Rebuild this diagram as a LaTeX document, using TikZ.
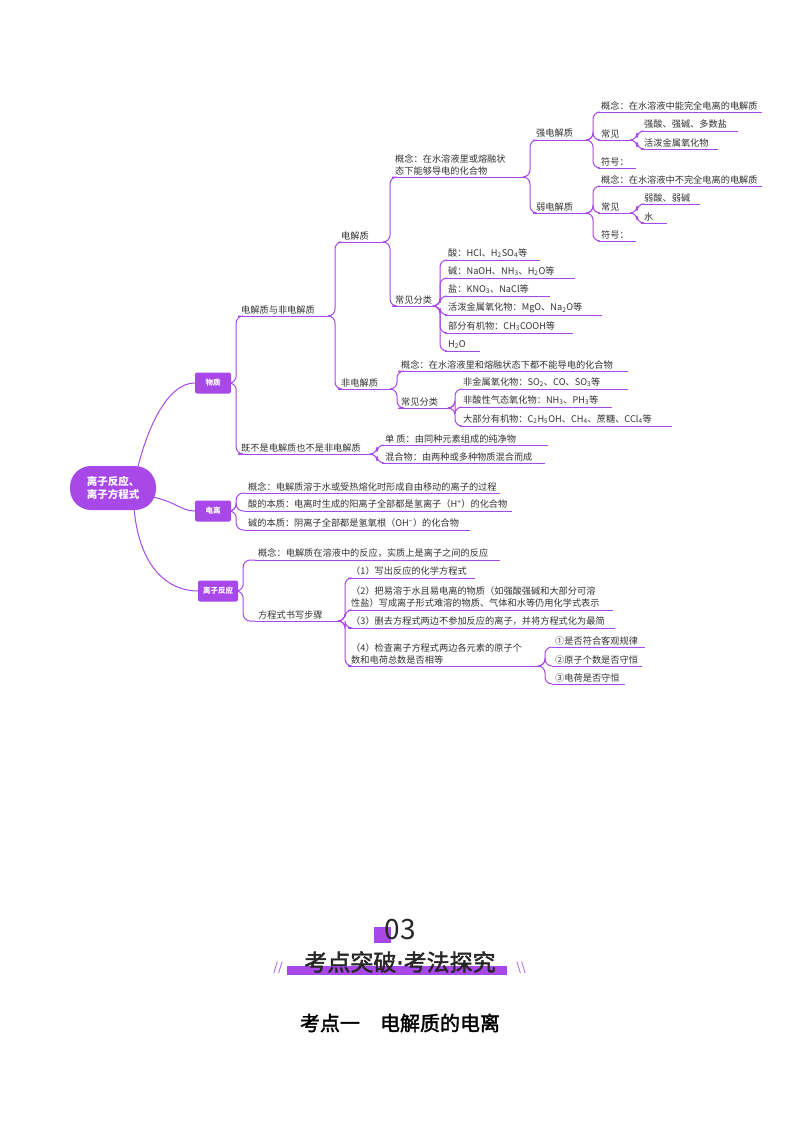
\documentclass[tikz,border=0pt]{standalone}
\usepackage{fontspec}
\setmainfont{Noto Sans CJK SC}
\newfontfamily\cjkb[FakeBold=2]{Noto Sans CJK SC}
\newfontfamily\dvs[FakeBold=2]{DejaVu Sans}
\definecolor{mp}{RGB}{168,72,232}
\definecolor{tx}{RGB}{50,50,50}
\newcommand\dn[1]{\textsubscript{#1}}
\newcommand\up[1]{\textsuperscript{#1}}
\tikzset{txt/.style={font=\fontsize{9.2}{12}\selectfont,text=tx,inner sep=1pt,anchor=south west,align=left},
 ul/.style={draw=mp,line width=1pt},
 con/.style={draw=mp,line width=1pt,rounded corners=7pt},
 box/.style={fill=mp,text=white,rounded corners=2pt,font=\fontsize{7.5}{8}\selectfont\bfseries,minimum height=21pt,minimum width=36pt,inner xsep=5pt}}
\newcommand\leaf[5]{\node[txt] (#1) at (#2+2,#3-1) {#5};
 \draw[ul] (#2,#3) coordinate (#1-s) -- (#4,#3) coordinate (#1-e);}
\newcommand\con[2]{\draw[con] (#1) -- ++(5,0) |- (#2);}
\begin{document}
\begin{tikzpicture}[x=1pt,y=-1pt]
\useasboundingbox (0,0) rectangle (800,1132);
% root and boxes
\node[fill=mp,text=white,rounded corners=21pt,minimum width=86pt,minimum height=44pt,align=left,font=\fontsize{10.5}{13.5}\selectfont\bfseries] (root) at (113,488) {离子反应、\\离子方程式};
\node[box] (wz) at (213,383) {物质};
\node[box] (dl) at (213,511) {电离};
\node[box] (fy) at (218,591) {离子反应};
\draw[con,rounded corners=0] (root.north east) ++(-18,0) .. controls (150,420) and (170,383) .. (wz.west);
\draw[con,rounded corners=0] (root.east) ++(-10,8) .. controls (175,500) and (180,511) .. (dl.west);
\draw[con,rounded corners=0] (root.south east) ++(-22,0) .. controls (140,570) and (170,591) .. (fy.west);
% 物质
\leaf{a1}{238}{316}{330}{电解质与非电解质}
\leaf{a2}{238}{454}{372}{既不是电解质也不是非电解质}
\con{wz.east}{a1-s}\con{wz.east}{a2-s}
\leaf{b1}{338}{242}{385}{电解质}
\leaf{b2}{338}{389}{392}{非电解质}
\con{a1-e}{b1-s}\con{a1-e}{b2-s}
\leaf{c1}{392}{177}{525}{概念：在水溶液里或熔融状\\态下能够导电的化合物}
\leaf{c2}{392}{306}{435}{常见分类}
\con{b1-e}{c1-s}\con{b1-e}{c2-s}
\leaf{d1}{533}{140}{588}{强电解质}
\leaf{d2}{533}{213}{588}{弱电解质}
\con{c1-e}{d1-s}\con{c1-e}{d2-s}
\leaf{e1}{598}{112}{762}{概念：在水溶液中能完全电离的电解质}
\leaf{e2}{598}{140}{632}{常见}
\leaf{e3}{598}{168}{636}{符号：}
\con{d1-e}{e1-s}\con{d1-e}{e2-s}\con{d1-e}{e3-s}
\leaf{f1}{641}{131}{738}{强酸、强碱、多数盐}
\leaf{f2}{641}{149}{718}{活泼金属氧化物}
\con{e2-e}{f1-s}\con{e2-e}{f2-s}
\leaf{e4}{598}{186}{762}{概念：在水溶液中不完全电离的电解质}
\leaf{e5}{598}{213}{632}{常见}
\leaf{e6}{598}{241}{636}{符号：}
\con{d2-e}{e4-s}\con{d2-e}{e5-s}\con{d2-e}{e6-s}
\leaf{f3}{641}{204}{700}{弱酸、弱碱}
\leaf{f4}{641}{223}{667}{水}
\con{e5-e}{f3-s}\con{e5-e}{f4-s}
\leaf{g1}{445}{260}{540}{酸：HCl、H\dn{2}SO\dn{4}等}
\leaf{g2}{445}{278}{575}{碱：NaOH、NH\dn{3}、H\dn{2}O等}
\leaf{g3}{445}{296}{550}{盐：KNO\dn{3}、NaCl等}
\leaf{g4}{445}{315}{602}{活泼金属氧化物：MgO、Na\dn{2}O等}
\leaf{g5}{445}{333}{573}{部分有机物：CH\dn{3}COOH等}
\leaf{g6}{445}{351}{480}{H\dn{2}O}
\foreach \g in {g1,g2,g3,g4,g5,g6}{\con{c2-e}{\g-s}}
\leaf{h1}{398}{371}{628}{概念：在水溶液里和熔融状态下都不能导电的化合物}
\leaf{h2}{398}{408}{450}{常见分类}
\con{b2-e}{h1-s}\con{b2-e}{h2-s}
\leaf{i1}{460}{389}{628}{非金属氧化物：SO\dn{2}、CO、SO\dn{3}等}
\leaf{i2}{460}{407}{612}{非酸性气态氧化物：NH\dn{3}、PH\dn{3}等}
\leaf{i3}{460}{426}{672}{大部分有机物：C\dn{2}H\dn{5}OH、CH\dn{4}、蔗糖、CCl\dn{4}等}
\con{h2-e}{i1-s}\con{h2-e}{i2-s}\con{h2-e}{i3-s}
\leaf{j1}{382}{445}{548}{单\ 质：由同种元素组成的纯净物}
\leaf{j2}{382}{463}{545}{混合物：由两种或多种物质混合而成}
\con{a2-e}{j1-s}\con{a2-e}{j2-s}
% 电离
\leaf{k1}{245}{493}{500}{概念：电解质溶于水或受热熔化时形成自由移动的离子的过程}
\leaf{k2}{245}{511}{512}{酸的本质：电离时生成的阳离子全部都是氢离子（H\up{+}）的化合物}
\leaf{k3}{245}{530}{470}{碱的本质：阴离子全部都是氢氧根（OH\up{−}）的化合物}
\con{dl.east}{k1-s}\con{dl.east}{k2-s}\con{dl.east}{k3-s}
% 离子反应
\leaf{l1}{255}{560}{500}{概念：电解质在溶液中的反应，实质上是离子之间的反应}
\leaf{l2}{255}{621}{340}{方程式书写步骤}
\con{fy.east}{l1-s}\con{fy.east}{l2-s}
\leaf{m1}{348}{578}{475}{（1）写出反应的化学方程式}
\leaf{m2}{348}{610}{613}{（2）把易溶于水且易电离的物质（如强酸强碱和大部分可溶\\性盐）写成离子形式难溶的物质、气体和水等仍用化学式表示}
\leaf{m3}{348}{628}{615}{（3）删去方程式两边不参加反应的离子，并将方程式化为最简}
\leaf{m4}{348}{666}{540}{（4）检查离子方程式两边各元素的原子个\\数和电荷总数是否相等}
\foreach \m in {m1,m2,m3,m4}{\con{l2-e}{\m-s}}
\leaf{n1}{552}{647}{645}{①是否符合客观规律}
\leaf{n2}{552}{666}{642}{②原子个数是否守恒}
\leaf{n3}{552}{684}{625}{③电荷是否守恒}
\con{m4-e}{n1-s}\con{m4-e}{n2-s}\con{m4-e}{n3-s}
% bottom headings
\fill[mp] (374,927) rectangle (391,943);
\node[font=\fontsize{28}{30}\selectfont,text=black!85] (num) at (400,930) {03};
\fill[mp] (287,966) rectangle (507,975);
\node[font=\cjkb\fontsize{23}{26}\selectfont,text=black!85] (ttl) at (400,962) {考点突破{\dvs ·}考法探究};
\node[font=\fontsize{12}{12}\selectfont,text=mp] (sl1) at (278,968) {//};
\node[font=\fontsize{12}{12}\selectfont,text=mp] (sl2) at (521,968) {\textbackslash\textbackslash};
\node[font=\cjkb\fontsize{20}{22}\selectfont,text=black] (sub) at (400,1023) {考点一\quad 电解质的电离};
\end{tikzpicture}
\end{document}
